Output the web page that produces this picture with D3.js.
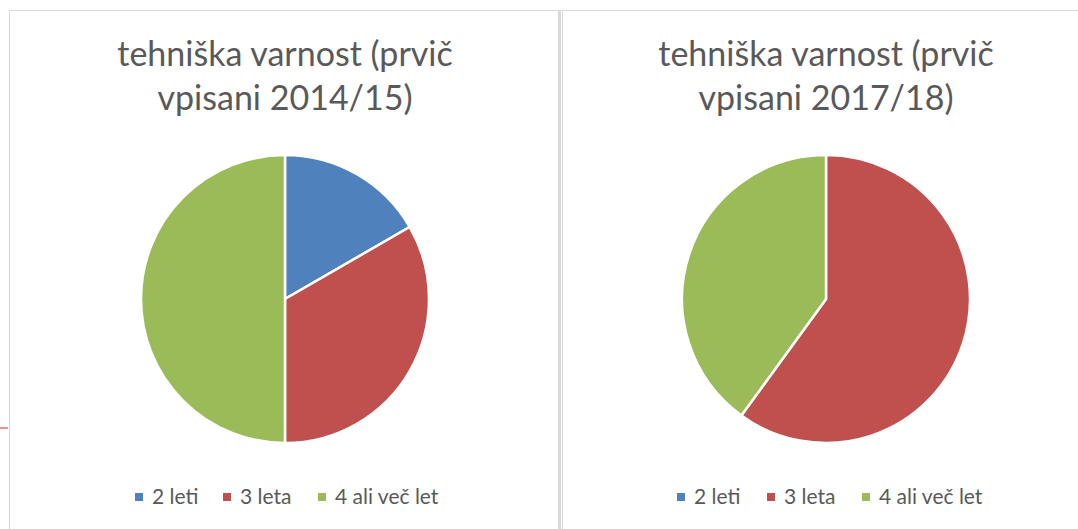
<!DOCTYPE html>
<html>
<head>
<meta charset="utf-8">
<script src="https://cdn.jsdelivr.net/npm/d3@7"></script>
<style>
	body { margin: 0; background: #fff; }
	svg { display: block; }
</style>
</head>
<body>
<script>
// Pie charts: duration of study, tehniška varnost (two enrolment years)

var categories = ["2 leti", "3 leta", "4 ali več let"];
var colors = ["#4F81BD", "#C0504D", "#9BBB59"];
var titles = [
	["tehniška varnost (prvič", "vpisani 2014/15)"],
	["tehniška varnost (prvič", "vpisani 2017/18)"]
];
var values2014 = [1, 2, 3];
var values2017 = [0, 3, 2];

var W = 1078, H = 529;
var svg = d3.select("body").append("svg").attr("width", W).attr("height", H);

	// Panel frames
var panels = [
	{ vals: values2014, title: titles[0] },
	{ vals: values2017, title: titles[1] }
];

svg.append("rect").attr("x", 9.5).attr("y", 10.5).attr("width", 549).attr("height", 530)
	.attr("fill", "none").attr("stroke", "#d9d9d9");
svg.append("rect").attr("x", 558).attr("y", 10).attr("width", 3).attr("height", 530)
	.attr("fill", "#d9d9d9");
svg.append("rect").attr("x", 562.5).attr("y", 10.5).attr("width", 540).attr("height", 530)
	.attr("fill", "none").attr("stroke", "#d9d9d9");

	// Stray red mark on left edge
svg.append("line").attr("x1", 0).attr("x2", 8).attr("y1", 428).attr("y2", 428)
	.attr("stroke", "#ec6b6b").attr("stroke-width", 1.5);

var color = d3.scaleOrdinal().domain(categories).range(colors);
var pie = d3.pie().sort(null).value(function(d) { return d.v; });
var r = 144;
var arc = d3.arc().innerRadius(0).outerRadius(r);

panels.forEach(function(p, pI) {
	var cx = pI === 0 ? 285 : 826;
	var g = svg.append("g");

		// Title
	g.selectAll("text.title").data(p.title).enter().append("text")
		.attr("class", "title")
		.attr("x", cx).attr("y", function(d, i) { return 66 + i*44; })
		.attr("text-anchor", "middle")
		.attr("font-family", "Lato, 'Open Sans', sans-serif")
		.attr("font-size", 34)
		.attr("fill", "#595959")
		.text(function(d) { return d; });

		// Pie
	var data = categories.map(function(c, i) { return { c: c, v: p.vals[i] }; });
	var pg = g.append("g").attr("transform", "translate(" + cx + ",299)");
	pg.selectAll("path").data(pie(data)).enter().append("path")
		.attr("d", arc)
		.attr("fill", function(d) { return color(d.data.c); })
		.attr("stroke", "#fff").attr("stroke-width", d => d.data.v > 0 ? 2.5 : 0);

		// Legend
	var lx = pI === 0 ? [135, 223, 318] : [677, 767, 862];
	var lg = g.selectAll("g.leg").data(categories).enter().append("g")
		.attr("class", "leg")
		.attr("transform", function(d, i) { return "translate(" + lx[i] + ",0)"; });
	lg.append("rect").attr("x", 0).attr("y", 493).attr("width", 8).attr("height", 8)
		.attr("fill", function(d) { return color(d); });
	lg.append("text").attr("x", 17).attr("y", 504)
		.attr("font-family", "Lato, 'Open Sans', sans-serif")
		.attr("font-size", 21)
		.attr("fill", "#595959")
		.text(function(d) { return d; });
});
</script>
</body>
</html>
